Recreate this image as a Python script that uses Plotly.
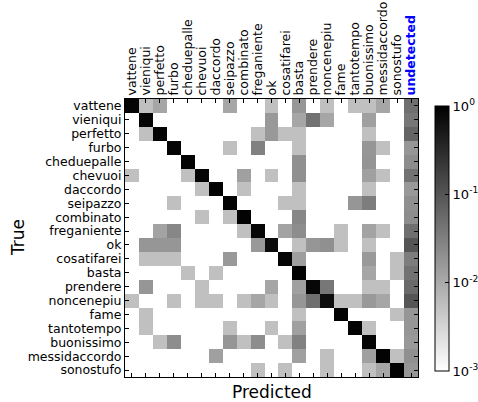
import numpy as np
import plotly.graph_objects as go

predicted_labels = ["vattene", "vieniqui", "perfetto", "furbo", "cheduepalle", "chevuoi",
                    "daccordo", "seipazzo", "combinato", "freganiente", "ok", "cosatifarei",
                    "basta", "prendere", "noncenepiu", "fame", "tantotempo", "buonissimo",
                    "messidaccordo", "sonostufo", "undetected"]
true_labels = predicted_labels[:-1]

row_vattene = [0.88, 0.0055, 0.011, 0, 0, 0, 0, 0.011, 0, 0, 0.0055, 0, 0.017, 0, 0.0055, 0, 0.0055, 0.0055, 0.011, 0, 0.05]
row_vieniqui = [0, 0.87, 0, 0, 0, 0, 0, 0, 0, 0, 0.016, 0, 0.011, 0.045, 0.011, 0, 0, 0.013, 0, 0, 0.04]
row_perfetto = [0, 0.0055, 0.9, 0, 0, 0, 0, 0, 0, 0.0055, 0.016, 0.0055, 0.0055, 0, 0, 0, 0, 0.0055, 0, 0, 0.065]
row_furbo = [0, 0, 0, 0.9, 0, 0, 0, 0.0055, 0, 0.03, 0, 0, 0.0055, 0, 0, 0, 0, 0.017, 0.0055, 0, 0.017]
row_cheduepalle = [0, 0, 0, 0, 0.93, 0, 0, 0, 0, 0, 0, 0, 0.02, 0, 0, 0, 0, 0.018, 0, 0, 0.022]
row_chevuoi = [0.0055, 0, 0, 0, 0.0055, 0.88, 0, 0, 0.013, 0, 0.0055, 0, 0.02, 0, 0, 0, 0, 0.013, 0.0055, 0, 0.045]
row_daccordo = [0, 0, 0, 0, 0, 0.0055, 0.95, 0, 0.0055, 0, 0, 0, 0.0055, 0, 0, 0, 0, 0.0055, 0, 0, 0.016]
row_seipazzo = [0, 0, 0, 0.0055, 0, 0, 0, 0.9, 0, 0, 0, 0.0055, 0.0055, 0, 0, 0, 0.017, 0.034, 0, 0, 0.02]
row_combinato = [0, 0, 0, 0, 0, 0.0055, 0, 0.0055, 0.93, 0, 0, 0, 0.026, 0, 0, 0, 0, 0, 0, 0, 0.022]
row_freganiente = [0, 0, 0.012, 0.026, 0, 0, 0, 0, 0.0055, 0.85, 0, 0.012, 0.022, 0, 0, 0.0055, 0, 0.012, 0.0055, 0, 0.05]
row_ok = [0, 0.017, 0.017, 0.017, 0, 0, 0, 0, 0, 0.016, 0.75, 0, 0.0055, 0.017, 0.02, 0.0055, 0, 0.0055, 0, 0, 0.1]
row_cosatifarei = [0, 0.0055, 0.0055, 0.0055, 0, 0, 0, 0.016, 0, 0, 0, 0.88, 0.014, 0, 0, 0, 0, 0.016, 0, 0.0055, 0.034]
row_basta = [0, 0, 0, 0, 0.0055, 0, 0.0055, 0, 0, 0, 0, 0, 0.92, 0, 0, 0, 0, 0.011, 0, 0.0055, 0.045]
row_prendere = [0, 0.017, 0, 0, 0, 0.0055, 0, 0, 0, 0, 0.011, 0, 0.013, 0.82, 0.04, 0, 0, 0.0055, 0.0055, 0, 0.056]
row_noncenepiu = [0.0055, 0, 0, 0.0055, 0, 0.0055, 0.0055, 0, 0.0055, 0.011, 0.0055, 0, 0.017, 0.05, 0.7, 0.0055, 0.0055, 0.016, 0.011, 0, 0.1]
row_fame = [0, 0.0055, 0, 0, 0, 0, 0, 0, 0, 0, 0, 0, 0.0055, 0, 0, 0.95, 0, 0, 0, 0.0055, 0.017]
row_tantotempo = [0, 0.0055, 0, 0, 0, 0, 0, 0.0055, 0, 0, 0.0055, 0, 0.013, 0, 0, 0, 0.93, 0.0055, 0, 0, 0.017]
row_buonissimo = [0, 0, 0.0055, 0.022, 0, 0, 0, 0.017, 0.0055, 0.022, 0, 0.0055, 0.03, 0, 0, 0, 0, 0.85, 0, 0, 0.016]
row_messidaccordo = [0, 0, 0, 0, 0, 0, 0.013, 0, 0, 0, 0, 0, 0.013, 0, 0.0055, 0, 0, 0.013, 0.92, 0.0055, 0.02]
row_sonostufo = [0, 0, 0, 0, 0, 0, 0, 0, 0, 0.0055, 0, 0.0055, 0, 0, 0.0055, 0, 0, 0.0055, 0.011, 0.94, 0.017]

colorbar_ticks = [-3, -2, -1, 0]
colorbar_ticktext = ["10<sup>-3</sup>", "10<sup>-2</sup>", "10<sup>-1</sup>", "10<sup>0</sup>"]

rows = [row_vattene, row_vieniqui, row_perfetto, row_furbo, row_cheduepalle, row_chevuoi,
        row_daccordo, row_seipazzo, row_combinato, row_freganiente, row_ok, row_cosatifarei,
        row_basta, row_prendere, row_noncenepiu, row_fame, row_tantotempo, row_buonissimo,
        row_messidaccordo, row_sonostufo]

rates = np.array(rows, dtype=float)
z = np.where(rates > 0, np.log10(np.where(rates > 0, rates, 1)), np.nan)

FONT = "DejaVu Sans"

fig = go.Figure(go.Heatmap(
    z=z, x=predicted_labels, y=true_labels,
    zmin=-3, zmax=0,
    colorscale=[[0, "#ffffff"], [1, "#000000"]],
    hoverongaps=False,
    colorbar=dict(
        tickvals=colorbar_ticks, ticktext=colorbar_ticktext,
        thickness=14, lenmode="pixels", len=265,
        x=1.058, xanchor="left", y=0.498, yanchor="middle",
        xpad=0, ypad=0,
        outlinecolor="black", outlinewidth=1,
        ticks="inside", ticklen=4, tickcolor="black",
        tickfont=dict(family=FONT, size=13, color="black"),
    ),
))

ticktext_x = predicted_labels[:-1] + ["<b><span style='color:#0000ff'>undetected</span></b>"]

fig.update_xaxes(
    side="top", tickangle=-90,
    tickmode="array", tickvals=predicted_labels, ticktext=ticktext_x,
    tickfont=dict(family=FONT, size=12.5, color="black"),
    showline=True, linecolor="black", linewidth=1, mirror="ticks",
    ticks="inside", ticklen=4, tickcolor="black",
    showgrid=False, zeroline=False,
)
fig.update_yaxes(
    autorange="reversed",
    tickmode="array", tickvals=true_labels, ticktext=true_labels,
    tickfont=dict(family=FONT, size=12.5, color="black"),
    showline=True, linecolor="black", linewidth=1, mirror="ticks",
    ticks="inside", ticklen=4, tickcolor="black",
    showgrid=False, zeroline=False,
)

fig.update_layout(
    width=478, height=402,
    margin=dict(l=125, r=60, t=99, b=25, autoexpand=False),
    paper_bgcolor="white", plot_bgcolor="white",
    font=dict(family=FONT, color="black"),
    annotations=[
        dict(text="Predicted", xref="paper", yref="paper", x=0.5, y=-0.012,
             xanchor="center", yanchor="top", showarrow=False,
             font=dict(family=FONT, size=17, color="black")),
        dict(text="True", xref="paper", yref="paper", x=-0.365, y=0.5,
             xanchor="center", yanchor="middle", textangle=-90, showarrow=False,
             font=dict(family=FONT, size=17, color="black")),
    ],
)

fig.write_html("out.html", config={"displayModeBar": False},
               post_script="document.body.style.margin='0';")
